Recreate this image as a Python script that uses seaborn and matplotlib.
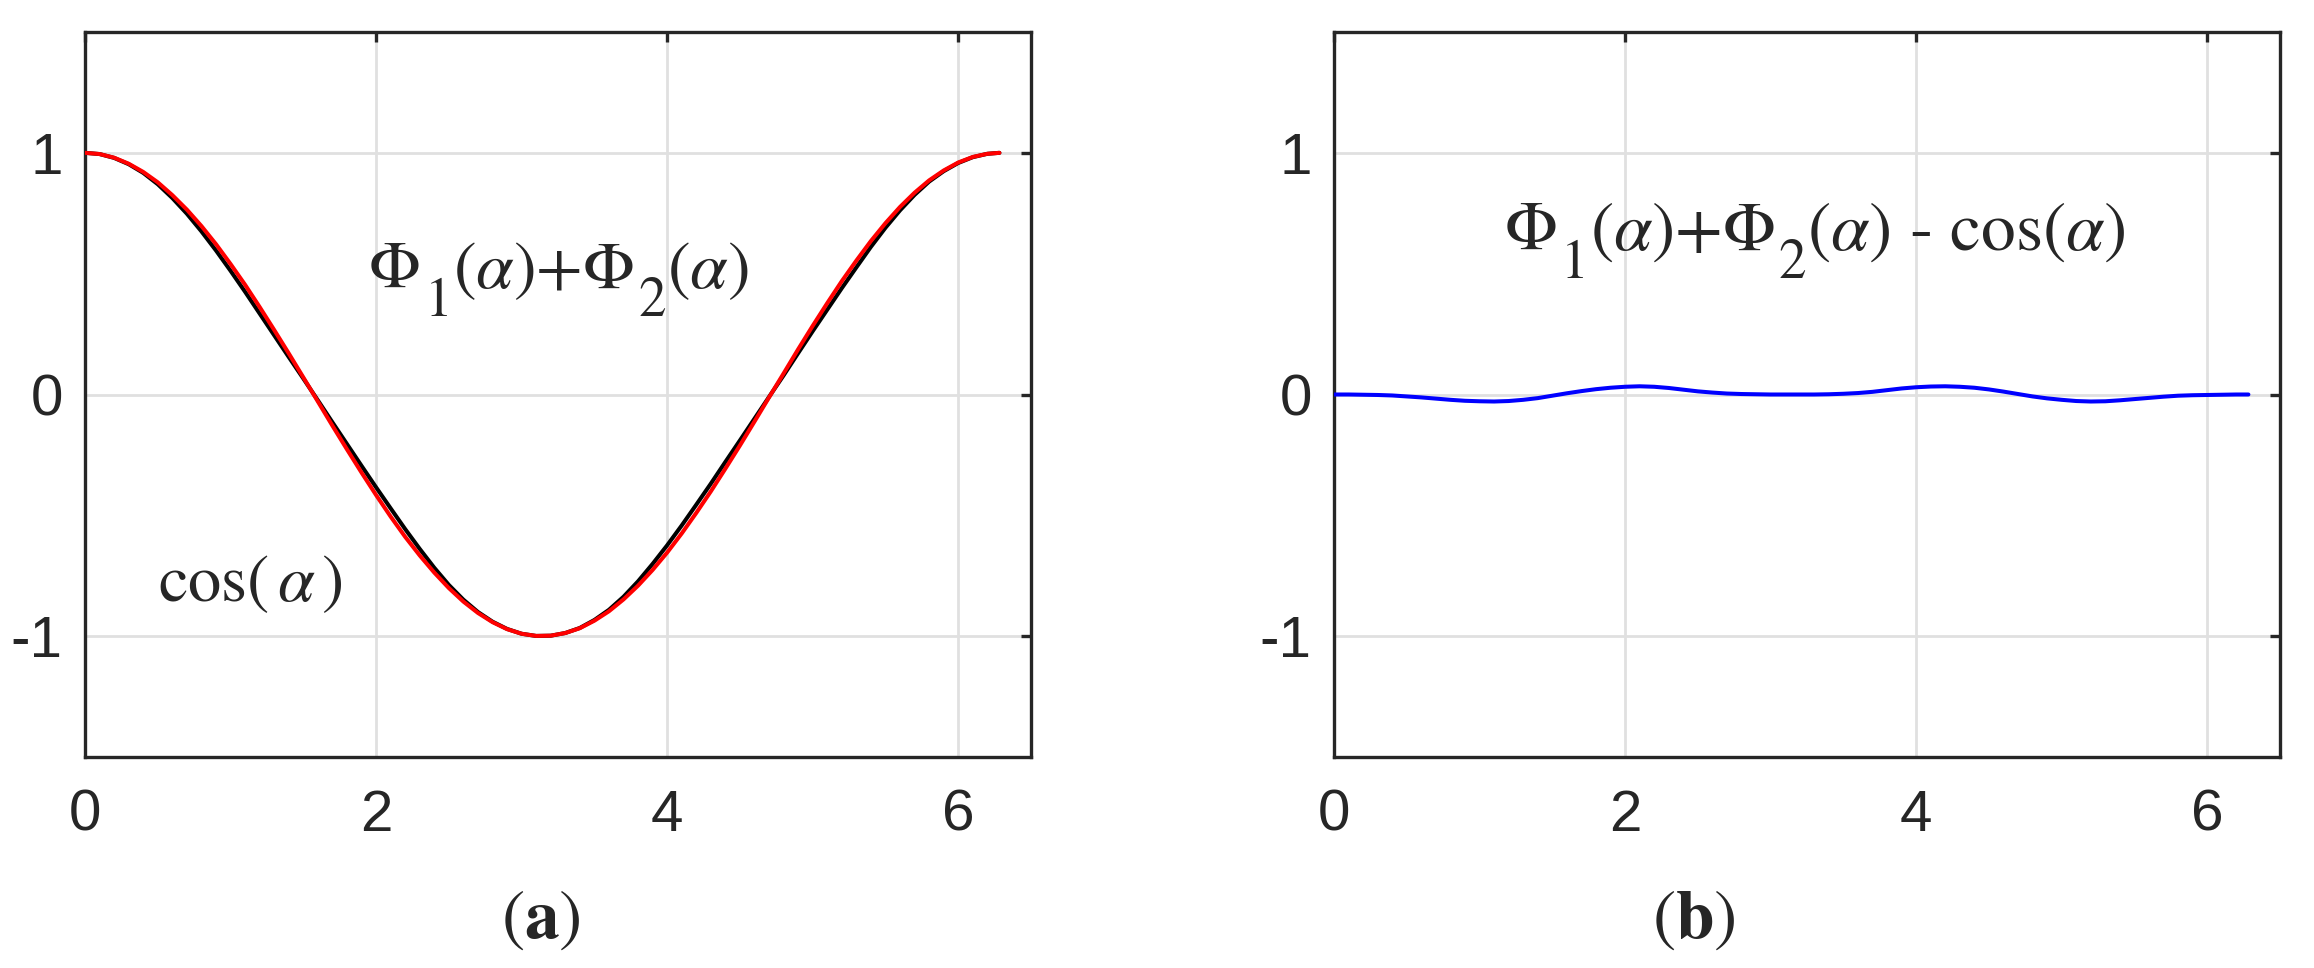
import numpy as np
import pandas as pd
import matplotlib
matplotlib.use("Agg")
import matplotlib.pyplot as plt
import matplotlib.transforms as mtrans
import seaborn as sns

# values
alpha = [0.0, 0.1, 0.2, 0.3, 0.4, 0.5, 0.6, 0.7, 0.8, 0.9, 1.0, 1.1, 1.2, 1.3, 1.4, 1.5,
         1.6, 1.7, 1.8, 1.9, 2.0, 2.1, 2.2, 2.3, 2.4, 2.5, 2.6, 2.7, 2.8, 2.9, 3.0, 3.1,
         3.2, 3.3, 3.4, 3.5, 3.6, 3.7, 3.8, 3.9, 4.0, 4.1, 4.2, 4.3, 4.4, 4.5, 4.6, 4.7,
         4.8, 4.9, 5.0, 5.1, 5.2, 5.3, 5.4, 5.5, 5.6, 5.7, 5.8, 5.9, 6.0, 6.1, 6.2, 6.283]

# red curve: cos(alpha)
cos_vals = [1.000, 0.995, 0.980, 0.955, 0.921, 0.878, 0.825, 0.765, 0.697, 0.622, 0.540,
            0.454, 0.362, 0.267, 0.170, 0.071, -0.029, -0.129, -0.227, -0.323, -0.416,
            -0.505, -0.589, -0.666, -0.737, -0.801, -0.857, -0.904, -0.942, -0.971, -0.990,
            -0.999, -0.998, -0.987, -0.967, -0.936, -0.897, -0.848, -0.791, -0.726, -0.654,
            -0.575, -0.490, -0.401, -0.307, -0.211, -0.112, -0.012, 0.087, 0.187, 0.284,
            0.378, 0.469, 0.554, 0.635, 0.709, 0.776, 0.835, 0.886, 0.927, 0.960, 0.983,
            0.996, 1.000]

# black curve: Phi1 + Phi2
phi_sum = [1.000, 0.995, 0.979, 0.953, 0.917, 0.870, 0.813, 0.748, 0.675, 0.596, 0.512,
           0.425, 0.335, 0.245, 0.155, 0.066, -0.024, -0.115, -0.205, -0.295, -0.384,
           -0.471, -0.557, -0.639, -0.717, -0.788, -0.849, -0.900, -0.940, -0.970, -0.990,
           -0.999, -0.998, -0.987, -0.966, -0.933, -0.891, -0.837, -0.773, -0.701, -0.624,
           -0.542, -0.456, -0.369, -0.279, -0.190, -0.100, -0.010, 0.079, 0.171, 0.262,
           0.351, 0.440, 0.526, 0.611, 0.690, 0.762, 0.826, 0.881, 0.924, 0.958, 0.982,
           0.996, 1.000]

# blue curve: Phi1 + Phi2 - cos
diff_vals = [0.000, 0.000, -0.001, -0.002, -0.004, -0.008, -0.012, -0.017, -0.022, -0.026,
             -0.028, -0.029, -0.027, -0.022, -0.015, -0.005, 0.005, 0.014, 0.022, 0.028,
             0.032, 0.034, 0.032, 0.027, 0.020, 0.013, 0.008, 0.004, 0.002, 0.001, 0.000,
             0.000, 0.000, 0.000, 0.001, 0.003, 0.006, 0.011, 0.018, 0.025, 0.030, 0.033,
             0.034, 0.032, 0.028, 0.021, 0.012, 0.002, -0.008, -0.016, -0.022, -0.027,
             -0.029, -0.028, -0.024, -0.019, -0.014, -0.009, -0.005, -0.003, -0.002, -0.001,
             0.000, 0.000]

x_ticks = [0, 2, 4, 6]
y_ticks = [-1, 0, 1]

df = pd.DataFrame({"alpha": alpha, "cos": cos_vals, "phi": phi_sum, "diff": diff_vals})

sns.set_style("white")
plt.rcParams['font.family'] = ['Liberation Sans', 'DejaVu Sans']
plt.rcParams['mathtext.fontset'] = 'stix'
plt.rcParams['axes.unicode_minus'] = False

W, H = 2314, 968
fig = plt.figure(figsize=(W / 100, H / 100), dpi=100)
ax1 = fig.add_axes([85 / W, 1 - 757 / H, 946 / W, 725 / H])
ax2 = fig.add_axes([1334 / W, 1 - 757 / H, 946 / W, 725 / H])

lw = 2.9
sns.lineplot(data=df, x="alpha", y="phi", color="black", lw=lw, ax=ax1, zorder=3)
sns.lineplot(data=df, x="alpha", y="cos", color="#ff0000", lw=lw, ax=ax1, zorder=4)
sns.lineplot(data=df, x="alpha", y="diff", color="#0000ff", lw=lw, ax=ax2, zorder=3)

for ax in (ax1, ax2):
    ax.set_xlim(0, 6.5)
    ax.set_ylim(-1.5, 1.5)
    ax.set_xticks(x_ticks)
    ax.set_yticks(y_ticks)
    ax.set_xlabel("")
    ax.set_ylabel("")
    ax.grid(True, color="#e0e0e0", lw=2.0)
    ax.set_axisbelow(True)
    ax.tick_params(direction="in", length=7, width=2.4, colors="#262626",
                   labelsize=42, top=True, right=True)
    ax.tick_params(axis="x", pad=23)
    ax.tick_params(axis="y", pad=16)
    for s in ax.spines.values():
        s.set_color("#262626")
        s.set_linewidth(2.4)

renderer = fig.canvas.get_renderer()


def chain_text(ax, x, y, pieces):
    # write pieces one after another, subscripts big and low like the original
    px, py = ax.transData.transform((x, y))
    for s, size, dy, gap in pieces:
        px += gap
        t = fig.text(px, py + dy, s, transform=mtrans.IdentityTransform(),
                     family="STIXGeneral", fontsize=size, va="baseline", ha="left")
        px = t.get_window_extent(renderer=renderer).x1


sub = -28
chain_text(ax1, 1.95, 0.44, [("Φ", 49, 0, 0), ("1", 40, sub, 4),
                             (r"($\alpha$)+Φ", 49, 0, 1), ("2", 40, sub, 4),
                             (r"($\alpha$)", 49, 0, 1)])
chain_text(ax2, 1.17, 0.60, [("Φ", 50, 0, 0), ("1", 40, sub, 4),
                             (r"($\alpha$)+Φ", 50, 0, 1), ("2", 40, sub, 4),
                             (r"($\alpha$) - cos($\alpha$)", 50, 0, 1)])
ax1.text(0.50, -0.855, r"cos($\,\alpha\,$)", family="STIXGeneral", fontsize=48,
         va="baseline", zorder=2)

fig.text(541 / W, 1 - 921 / H, r"($\mathbf{a}$)", family="STIXGeneral", fontsize=50,
         ha="center", va="center")
fig.text(1694 / W, 1 - 921 / H, r"($\mathbf{b}$)", family="STIXGeneral", fontsize=50,
         ha="center", va="center")

fig.savefig("out.png", dpi=100)
